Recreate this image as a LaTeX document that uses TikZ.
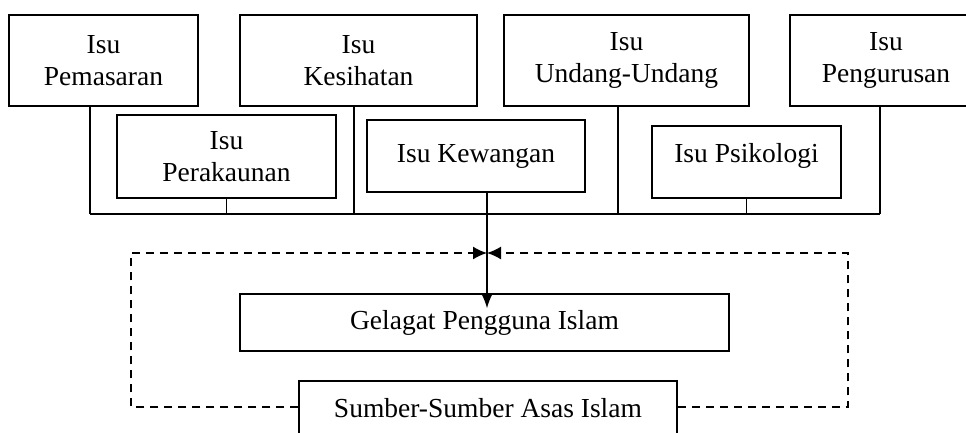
\documentclass[tikz,border=0pt]{standalone}
\usepackage{fontspec}
\setmainfont{Liberation Serif}
\usetikzlibrary{arrows.meta}

\begin{document}
\begin{tikzpicture}[x=1pt,y=-1pt]
  \tikzset{isu/.style = {draw, rectangle, align=center, inner sep=0pt, line width=1.5pt, font=\fontsize{27.5}{32}\selectfont}}
  \tikzset{wire/.style = {line width=1.5pt}}
  \tikzset{dashwire/.style = {line width=1.5pt, dash pattern=on 8pt off 6pt}}
  \tikzset{tipin/.style = {-{Latex[length=14pt,width=13pt]}}}

  \def\toph{91pt}
  \def\midh{72pt}

  \useasboundingbox (0,0) rectangle (966,432);

  % Top row
  \node[isu, minimum width=189pt, minimum height=\toph] (pemasaran) at (103.5,60.5) {Isu\\Pemasaran};
  \node[isu, minimum width=237pt, minimum height=\toph] (kesihatan) at (358.5,60.5) {Isu\\Kesihatan};
  \node[isu, minimum width=245pt, minimum height=\toph] (undang) at (626.5,60.5) {Isu\\Undang-Undang};
  \node[isu, minimum width=192pt, minimum height=\toph] (pengurusan) at (886,60.5) {Isu\\Pengurusan};

  % Second row
  \node[isu, minimum width=219pt, minimum height=83pt] (perakaunan) at (226.5,156.5) {Isu\\Perakaunan};
  \node[isu, minimum width=218pt, minimum height=\midh] (kewangan) at (476,156) {Isu Kewangan};
  \node[isu, minimum width=189pt, text height=36pt, text depth=36pt] (psikologi) at (746.5,162) {Isu Psikologi};

  % Bus
  \coordinate (j1) at (90,214);
  \coordinate (j2) at (226.5,214);
  \coordinate (j3) at (354,214);
  \coordinate (j4) at (618,214);
  \coordinate (j5) at (746.5,214);
  \coordinate (j6) at (880,214);
  \draw[wire] (pemasaran.south -| j1) -- (j1);
  \draw[wire] (perakaunan.south) -- (j2);
  \draw[wire] (kesihatan.south -| j3) -- (j3);
  \draw[wire] (undang.south -| j4) -- (j4);
  \draw[wire] (psikologi.south) -- (j5);
  \draw[wire] (pengurusan.south -| j6) -- (j6);
  \draw[wire] (j1) -- (j6);

  % Bottom
  \node[isu, minimum width=489pt, minimum height=57pt] (gelagat) at (484.5,322.5) {Gelagat Pengguna Islam};
  \node[isu, minimum width=378pt, text height=36pt, text depth=36pt] (sumber) at (488,417) {Sumber-Sumber Asas Islam};

  \coordinate (meet) at (487,253);
  \draw[dashwire, tipin] ([yshift=10pt]sumber.west) -| (131,253) -- (meet);
  \draw[dashwire, tipin] ([yshift=10pt]sumber.east) -| (848,253) -- (meet);
  \draw[wire, -{Latex[length=15pt,width=12pt]}] (kewangan.south -| meet) -- ([yshift=-15pt]gelagat.north -| meet);
\end{tikzpicture}
\end{document}
